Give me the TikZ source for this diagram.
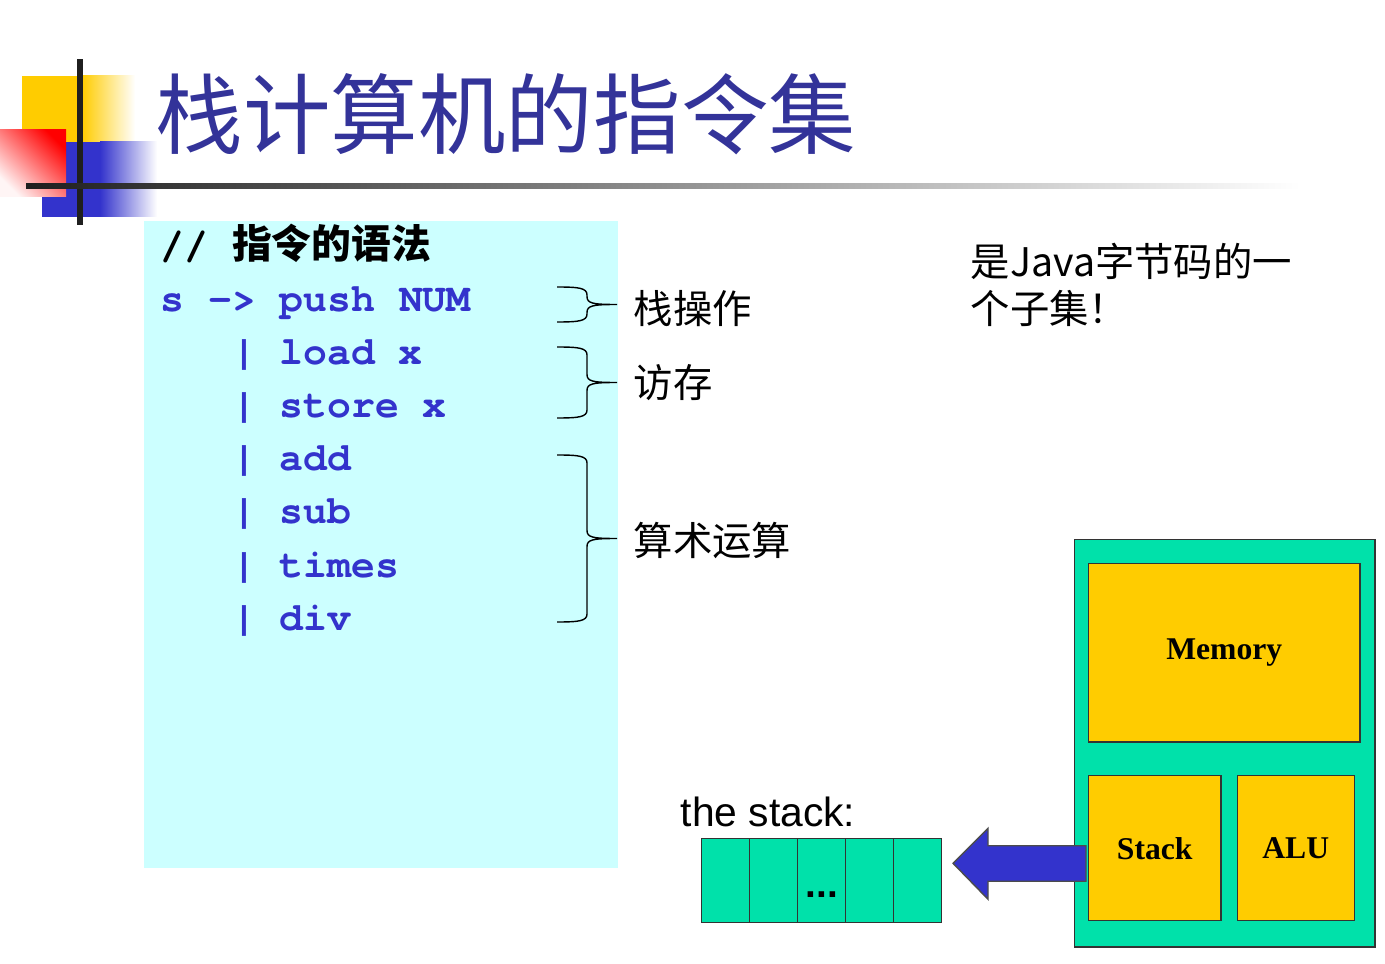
\documentclass[tikz,border=0pt]{standalone}
\usepackage{fontspec}
\setmainfont{Liberation Serif}
\setsansfont{Liberation Sans}
\setmonofont{texgyrecursor}[Extension=.otf, UprightFont=*-regular, BoldFont=*-bold]
\newfontfamily\cjk{Noto Sans CJK SC}
\usepackage{xcolor}
\usepackage{tikz}
\usetikzlibrary{calc,positioning}
\definecolor{titleblue}{HTML}{333399}
\definecolor{codeblue}{HTML}{3333CC}
\definecolor{codebg}{HTML}{CCFFFF}
\definecolor{cellgreen}{HTML}{00E1AA}
\definecolor{unitgold}{HTML}{FFCC00}
\def\codesize{\fontsize{11.3}{13}\selectfont}
\def\notesize{\fontsize{11.2}{13.4}\selectfont}
% curly brace: x, top y, bottom y
\def\curly#1#2#3{
    \draw[black, thin]
         (#1,#2) .. controls ({#1+22},#2) and ({#1+30},{#2+1}) .. ({#1+30},{#2+8})
         -- ({#1+30},{(#2+#3)/2-8})
         .. controls ({#1+30},{(#2+#3)/2-1}) and ({#1+36},{(#2+#3)/2}) .. ({#1+60},{(#2+#3)/2})
         ({#1+60},{(#2+#3)/2})
         .. controls ({#1+36},{(#2+#3)/2}) and ({#1+30},{(#2+#3)/2+1}) .. ({#1+30},{(#2+#3)/2+8})
         -- ({#1+30},{#3-8})
         .. controls ({#1+30},{#3-1}) and ({#1+22},#3) .. (#1,#3);
}
\tikzset{
    code/.style={font=\ttfamily\bfseries\codesize, text=codeblue,
        anchor=base west, inner sep=0pt},
    note/.style={font=\cjk\notesize, anchor=base west, inner sep=0pt},
    cell/.style={draw=black!80, fill=cellgreen, anchor=north west,
        minimum width=0.48cm, minimum height=0.84cm, inner sep=0pt},
    unit/.style={draw=black!80, fill=unitgold, anchor=north west, inner sep=0pt,
        font=\bfseries\fontsize{9}{11}\selectfont},
    blockarrow/.style={draw=black!70, fill=codeblue, line join=miter}
}

\begin{document}
\begin{tikzpicture}[x=0.01cm, y=-0.01cm]
  \useasboundingbox (0,0) rectangle (1385,964);

  % title decoration
  \fill[unitgold] (22,76) rectangle (82,142);
  \shade[left color=unitgold, right color=white] (82,76) rectangle (135,142);
  \fill[codeblue] (42,142) rectangle (100,217);
  \shade[left color=codeblue, right color=white] (100,142) rectangle (157,217);
  \shade[top color=red, bottom color=red!4, shading angle=-45]
       (0,130) rectangle (66,197);
  \fill[black!88] (77,59) rectangle (83,225);
  \shade[left color=black!88, middle color=black!45, right color=white]
       (26,184) rectangle (1300,189);
  \node[anchor=base west, inner sep=0pt, text=titleblue,
        font=\cjk\fontsize{24.9}{30}\selectfont] (title) at (155,148) {栈计算机的指令集};

  % grammar
  \node[fill=codebg, anchor=north west, minimum width=4.74cm,
        minimum height=6.47cm, inner sep=0pt] (gram) at (143,220) {};
  \node[code, text=black] (cmt) at (160,259) {// {\cjk\bfseries 指令的语法}};
  \node[code] (rule0) at (160,312) {s -> push NUM};
  \foreach \op [count=\i, evaluate=\i as \j using int(\i-1)] in
      {load x, store x, add, sub, times, div} {
    \node[code] (bar\i) at ($(rule\j.base west)+(71.4,53)$) {|};
    \node[code] (op\i) at ($(bar\i.base west)+(47.6,0)$) {\op};
    \coordinate (rule\i) at ($(rule\j.base west)+(0,53)$);
  }

  % braces and their labels
  \curly{557}{287}{322}
  \curly{557}{347}{418}
  \curly{557}{455}{622}
  \node[note] (stackop) at (633,324) {栈操作};
  \node[note] (memop) at (633,398) {访存};
  \node[note] (arith) at (633,555) {算术运算};

  \node[note] (java1) at (970,277) {是Java字节码的一};
  \node[note] (java2) at ($(java1.base west)+(0,47)$) {个子集！};

  % stack machine
  \node[draw=black!80, fill=cellgreen, anchor=north west, minimum width=3cm,
        minimum height=4.07cm, inner sep=0pt] (cpu) at (1074,539) {};
  \node[unit, minimum width=2.71cm, minimum height=1.78cm] (mem) at (1088,563) {Memory};
  \node[unit, minimum width=1.32cm, minimum height=1.45cm] (stk) at (1088,775) {Stack};
  \node[unit, minimum width=1.17cm, minimum height=1.45cm,
        right=0.15cm of stk] (alu) {ALU};

  % the stack
  \foreach \i in {1,...,5}
    \node[cell] (c\i) at ({701+48*(\i-1)},838) {};
  \node[anchor=base, inner sep=0pt, font=\sffamily\bfseries\fontsize{11}{13}\selectfont]
       (dots) at ($(c3.south)+(0,-26)$) {...};
  \node[anchor=base west, inner sep=0pt, font=\sffamily\fontsize{11.6}{14}\selectfont]
       (stacklbl) at (680,826) {the stack:};

  \coordinate (push) at ($(stk.west)+(-2,15)$);
  \draw[blockarrow] (push) ++(0,-17.5) -- ++(-98,0) -- ++(0,-17.5)
       -- ++(-35,35) -- ++(35,36) -- ++(0,-18) -- ++(98,0) -- cycle;
\end{tikzpicture}
\end{document}
